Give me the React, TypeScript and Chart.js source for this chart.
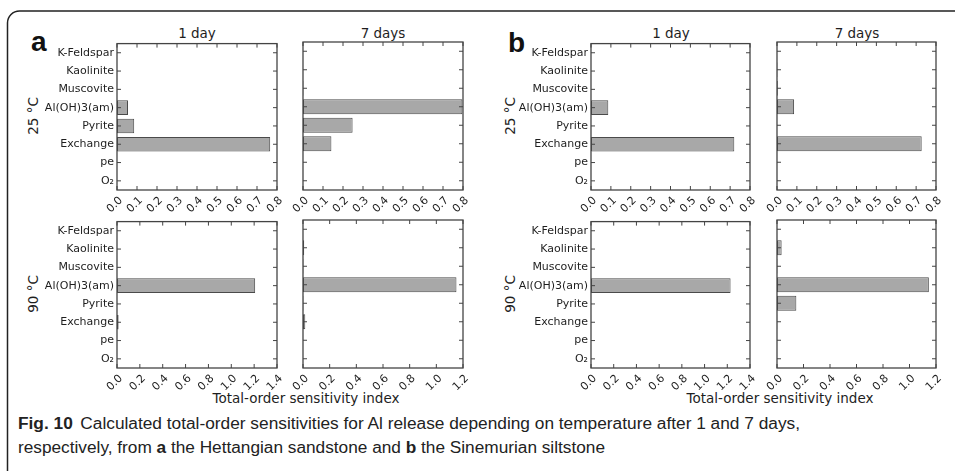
import React, { useEffect, useRef } from 'react';
import { Chart, registerables } from 'chart.js';

Chart.register(...registerables);

// Parameters of the sensitivity analysis, listed from top to bottom
const minerals = ['K-Feldspar', 'Kaolinite', 'Muscovite', 'Al(OH)3(am)', 'Pyrite', 'Exchange', 'pe', 'O₂'];

// (a) Hettangian sandstone – total-order sensitivity index
const sandstone25C1d = [0, 0, 0, 0.055, 0.086, 0.766, 0, 0];
const sandstone25C7d = [0, 0, 0.002, 0.797, 0.248, 0.142, 0, 0];
const sandstone90C1d = [0, 0, 0, 1.209, 0, 0.014, 0, 0];
const sandstone90C7d = [0, 0.009, 0.003, 1.151, 0.003, 0.017, 0, 0];

// (b) Sinemurian siltstone – total-order sensitivity index
const siltstone25C1d = [0, 0, 0, 0.087, 0, 0.721, 0, 0];
const siltstone25C7d = [0, 0.002, 0.004, 0.086, 0, 0.728, 0, 0];
const siltstone90C1d = [0, 0, 0, 1.229, 0, 0.001, 0, 0];
const siltstone90C7d = [0, 0.035, 0.003, 1.146, 0.146, 0.002, 0, 0];

// x-axis ticks
const ticksTo08 = [0, 0.1, 0.2, 0.3, 0.4, 0.5, 0.6, 0.7, 0.8];
const ticksTo14 = [0, 0.2, 0.4, 0.6, 0.8, 1.0, 1.2, 1.4];
const ticksTo12 = [0, 0.2, 0.4, 0.6, 0.8, 1.0, 1.2];

const BAR_FILL = '#a8a8a8';
const BAR_EDGE = '#4a4a4a';
const SPINE = '#444444';
const TEXT = '#1e1e1e';
const TICK_FONT = { family: 'DejaVu Sans', size: 11 };

const TROOM = 8;
const RROOM = 16;
const BROOM = 34;
const BOX_H = 148;

// Box outline plus matplotlib-style inward ticks on all four sides
const framePlugin = {
  id: 'frameTicks',
  afterDatasetsDraw(chart: any) {
    const { ctx, chartArea: a, scales } = chart;
    const len = 4;
    ctx.save();
    ctx.strokeStyle = SPINE;
    ctx.lineWidth = 1;
    ctx.beginPath();
    scales.x.ticks.forEach((t: any) => {
      const px = scales.x.getPixelForValue(t.value);
      ctx.moveTo(px, a.bottom);
      ctx.lineTo(px, a.bottom - len);
      ctx.moveTo(px, a.top);
      ctx.lineTo(px, a.top + len);
    });
    scales.y.ticks.forEach((_t: any, i: number) => {
      const py = scales.y.getPixelForTick(i);
      ctx.moveTo(a.left, py);
      ctx.lineTo(a.left + len, py);
      ctx.moveTo(a.right, py);
      ctx.lineTo(a.right - len, py);
    });
    ctx.stroke();
    ctx.lineWidth = 1.3;
    ctx.strokeRect(a.left, a.top, a.right - a.left, a.bottom - a.top);
    ctx.restore();
  },
};

type PanelProps = {
  boxLeft: number;
  boxTop: number;
  boxWidth: number;
  values: number[];
  xTicks: number[];
  showNames: boolean;
};

function Panel({ boxLeft, boxTop, boxWidth, values, xTicks, showNames }: PanelProps) {
  const ref = useRef<HTMLCanvasElement>(null);
  const lroom = showNames ? 110 : 34;
  const cw = lroom + boxWidth + RROOM;
  const ch = TROOM + BOX_H + BROOM;

  useEffect(() => {
    const chart = new Chart(ref.current as HTMLCanvasElement, {
      type: 'bar',
      data: {
        labels: minerals,
        datasets: [
          {
            data: values,
            backgroundColor: BAR_FILL,
            borderColor: BAR_EDGE,
            borderWidth: 1,
            borderSkipped: false,
            barPercentage: 0.8,
            categoryPercentage: 1,
          },
        ],
      },
      options: {
        indexAxis: 'y',
        responsive: false,
        animation: false,
        devicePixelRatio: 1,
        layout: { padding: { top: TROOM, right: RROOM, left: 0, bottom: 0 } },
        plugins: { legend: { display: false }, tooltip: { enabled: false } },
        scales: {
          x: {
            type: 'linear',
            min: 0,
            max: xTicks[xTicks.length - 1],
            afterBuildTicks: (s: any) => {
              s.ticks = xTicks.map((v) => ({ value: v }));
            },
            afterFit: (s: any) => {
              s.height = BROOM;
            },
            grid: { display: false, drawTicks: false },
            border: { display: false },
            ticks: {
              autoSkip: false,
              minRotation: 45,
              maxRotation: 45,
              padding: 4,
              labelOffset: 4,
              color: TEXT,
              font: TICK_FONT,
              callback: (v: any) => Number(v).toFixed(1),
            },
          },
          y: {
            type: 'category',
            offset: true,
            afterFit: (s: any) => {
              s.width = lroom;
            },
            grid: { display: false, drawTicks: false, offset: true },
            border: { display: false },
            ticks: { display: showNames, autoSkip: false, padding: 3, color: TEXT, font: TICK_FONT },
          },
        },
      } as any,
      plugins: [framePlugin],
    });
    return () => chart.destroy();
  }, []);

  return (
    <canvas
      ref={ref}
      width={cw}
      height={ch}
      style={{ position: 'absolute', left: boxLeft - lroom, top: boxTop - TROOM, width: cw, height: ch }}
    />
  );
}

const TOP_ROW = 42;
const BOTTOM_ROW = 220;

export default function App() {
  const labelFont = { fontFamily: 'DejaVu Sans', fontSize: 13.5, fill: TEXT } as const;
  return (
    <div
      style={{
        position: 'fixed',
        left: 0,
        top: 0,
        width: 955,
        height: 471,
        background: '#fff',
        overflow: 'hidden',
      }}
    >
      <svg width={955} height={471} style={{ position: 'absolute', left: 0, top: 0 }}>
        <path d="M 7.5 472 L 7.5 23 A 12 12 0 0 1 19.5 11 L 960 11" fill="none" stroke="#222" strokeWidth={1.5} />

        <text x={31} y={51} fontFamily="Liberation Sans" fontWeight="bold" fontSize={28} fill="#111">a</text>
        <text x={508} y={52} fontFamily="Liberation Sans" fontWeight="bold" fontSize={28} fill="#111">b</text>

        <text x={197} y={38} textAnchor="middle" {...labelFont}>1 day</text>
        <text x={383} y={38} textAnchor="middle" {...labelFont}>7 days</text>
        <text x={671} y={38} textAnchor="middle" {...labelFont}>1 day</text>
        <text x={857} y={38} textAnchor="middle" {...labelFont}>7 days</text>

        <text transform="translate(38,116) rotate(-90)" textAnchor="middle" {...labelFont}>25 °C</text>
        <text transform="translate(38,294) rotate(-90)" textAnchor="middle" {...labelFont}>90 °C</text>
        <text transform="translate(515,116) rotate(-90)" textAnchor="middle" {...labelFont}>25 °C</text>
        <text transform="translate(515,294) rotate(-90)" textAnchor="middle" {...labelFont}>90 °C</text>

        <text x={306} y={403} textAnchor="middle" {...labelFont}>Total-order sensitivity index</text>
        <text x={780} y={403} textAnchor="middle" {...labelFont}>Total-order sensitivity index</text>

        <text x={18} y={429} fontFamily="Liberation Sans" fontSize={16} fill="#222" textLength={782} lengthAdjust="spacingAndGlyphs">
          <tspan fontWeight="bold">Fig. 10</tspan>
          <tspan dx={7}>Calculated total-order sensitivities for Al release depending on temperature after 1 and 7 days,</tspan>
        </text>
        <text x={18} y={453} fontFamily="Liberation Sans" fontSize={16} fill="#222" textLength={587} lengthAdjust="spacingAndGlyphs">
          <tspan>respectively, from </tspan>
          <tspan fontWeight="bold">a</tspan>
          <tspan> the Hettangian sandstone and </tspan>
          <tspan fontWeight="bold">b</tspan>
          <tspan> the Sinemurian siltstone</tspan>
        </text>
      </svg>

      <Panel boxLeft={117} boxTop={TOP_ROW} boxWidth={160} values={sandstone25C1d} xTicks={ticksTo08} showNames />
      <Panel boxLeft={303} boxTop={TOP_ROW} boxWidth={160} values={sandstone25C7d} xTicks={ticksTo08} showNames={false} />
      <Panel boxLeft={117} boxTop={BOTTOM_ROW} boxWidth={160} values={sandstone90C1d} xTicks={ticksTo14} showNames />
      <Panel boxLeft={303} boxTop={BOTTOM_ROW} boxWidth={160} values={sandstone90C7d} xTicks={ticksTo12} showNames={false} />

      <Panel boxLeft={591} boxTop={TOP_ROW} boxWidth={159} values={siltstone25C1d} xTicks={ticksTo08} showNames />
      <Panel boxLeft={777} boxTop={TOP_ROW} boxWidth={159} values={siltstone25C7d} xTicks={ticksTo08} showNames={false} />
      <Panel boxLeft={591} boxTop={BOTTOM_ROW} boxWidth={159} values={siltstone90C1d} xTicks={ticksTo14} showNames />
      <Panel boxLeft={777} boxTop={BOTTOM_ROW} boxWidth={159} values={siltstone90C7d} xTicks={ticksTo12} showNames={false} />
    </div>
  );
}
